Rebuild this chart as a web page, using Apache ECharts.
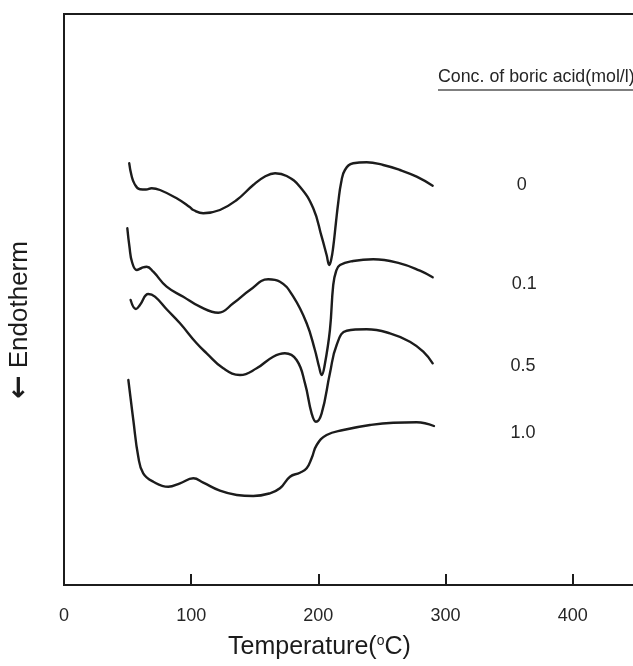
<!DOCTYPE html>
<html>
<head>
<meta charset="utf-8">
<title>DSC curves</title>
<script src="https://cdn.jsdelivr.net/npm/echarts@6/dist/echarts.min.js"></script>
<style>
  html, body { margin: 0; padding: 0; background: #fff; overflow: hidden; }
  #chart { width: 660px; height: 666px; }
</style>
</head>
<body>
<div id="chart"></div>
<script>
// Temperature ticks on the x axis (°C)
const xTicks = [0, 100, 200, 300, 400];

// Concentrations of boric acid (mol/l), one DSC trace each
const concLabels = ['0', '0.1', '0.5', '1.0'];

// DSC traces: [temperature (°C), heat flow (arb. units, offset per trace)]
const curve0 = [
  [51.3, 421.7], [53.0, 410], [55.5, 401], [59.7, 395.7], [64.5, 395.5], [68.9, 396.7], [75.5, 395],
  [88.6, 386.7], [99.1, 377.7], [101.7, 375], [109.5, 371.7], [122.6, 375],
  [135.8, 385], [148.8, 400], [158.0, 408.5], [166.0, 411.7], [175.1, 409],
  [185.5, 398.3], [196.0, 376.7], [202.6, 348.3], [206.5, 330], [208.6, 320],
  [210.2, 326], [211.7, 338], [213.8, 362], [215.6, 382], [218.0, 403],
  [220.9, 415], [227.4, 421.7], [238.0, 422.7], [251.0, 420], [264.2, 415],
  [277.3, 408.3], [289.9, 399.3]
];
const curve01 = [
  [49.8, 356.7], [51.5, 338], [53.5, 323], [57.2, 315], [61.0, 317], [65.0, 318.3],
  [70.2, 313.3], [80.7, 298.3], [93.8, 288.3], [106.9, 278.3], [121.3, 272.3],
  [133.1, 281.7], [146.2, 295], [160.6, 305.7], [169.8, 303.3], [180.3, 288.3],
  [190.8, 261.7], [197.3, 235], [200.6, 218], [202.6, 210], [205.0, 220],
  [209.1, 255], [211.7, 300], [214.0, 314], [217.0, 320], [227.4, 324],
  [243.2, 325.7], [264.2, 321.7], [279.9, 314.3], [289.9, 307.7]
];
const curve05 = [
  [52.4, 285], [56.6, 276], [59.7, 280], [66.3, 291], [71.5, 288.3],
  [80.7, 275.7], [91.2, 261.7], [104.3, 241.7], [112.2, 231.7], [125.2, 216.7],
  [138.4, 210], [151.5, 216.7], [164.5, 228.3], [173.7, 231.7], [182.9, 225],
  [189.5, 201.7], [194.7, 171.7], [198.1, 163.3], [202.6, 171.7], [209.1, 211.7],
  [214.4, 240], [222.3, 254.3], [238.0, 255.7], [256.3, 251.7], [272.0, 243.3],
  [282.5, 233.3], [289.9, 221.7]
];
const curve10 = [
  [50.6, 205], [54.5, 165], [58.4, 128.3], [62.3, 111.7], [70.2, 103.3],
  [82.0, 98.3], [91.2, 101.7], [101.7, 106.7], [109.5, 102.3], [122.6, 94.3],
  [135.8, 90], [148.8, 89], [161.9, 91.7], [169.8, 96.7], [177.7, 108.3],
  [185.5, 112.3], [190.8, 116.7], [194.7, 126.7], [198.7, 140], [206.5, 150],
  [219.6, 155], [240.6, 160], [258.9, 162.3], [277.3, 162.7], [290.9, 159]
];

// Where each concentration label sits: [temperature, heat flow]
const labelAt = [[360, 400], [362, 301], [361, 219], [361, 152]];

const curves = [curve0, curve01, curve05, curve10];

const FONT = '"Liberation Sans", Arial, sans-serif';
const INK = '#1c1c1c';
const TEXT = '#262626';

const chart = echarts.init(document.getElementById('chart'));

const series = curves.map((data, i) => ({
  name: concLabels[i],
  type: 'line',
  data: data,
  showSymbol: false,
  smooth: 0.45,
  silent: true,
  lineStyle: { color: INK, width: 2.4, cap: 'round', join: 'round' },
  markPoint: {
    symbol: 'circle',
    symbolSize: 0,
    data: [{
      coord: labelAt[i],
      label: {
        show: true,
        position: 'inside',
        formatter: concLabels[i],
        fontFamily: FONT,
        fontSize: 18,
        color: TEXT
      }
    }]
  }
}));

chart.setOption({
  animation: false,
  backgroundColor: '#fff',
  grid: {
    left: 64, top: 14, width: 585, height: 571,
    show: true, borderColor: INK, borderWidth: 2, backgroundColor: 'transparent'
  },
  xAxis: {
    type: 'value',
    min: 0, max: 460, interval: 100,
    axisLine: { lineStyle: { color: INK, width: 2 } },
    axisTick: { show: true, inside: true, length: 11, lineStyle: { color: INK, width: 2 } },
    axisLabel: {
      margin: 22, fontFamily: FONT, fontSize: 18, color: TEXT,
      customValues: xTicks
    },
    splitLine: { show: false }
  },
  yAxis: {
    type: 'value',
    min: 0, max: 571,
    axisLine: { show: true, lineStyle: { color: INK, width: 2 } },
    axisTick: { show: false },
    axisLabel: { show: false },
    splitLine: { show: false }
  },
  series: series,
  graphic: [
    {
      type: 'text',
      left: 228, top: 634,
      style: {
        text: 'Temperature({sup|o}C)',
        rich: { sup: { fontSize: 14, verticalAlign: 'top', padding: [0, 0, 12, 0], fontFamily: FONT, fill: INK } },
        font: '25px ' + FONT,
        fill: INK
      }
    },
    {
      type: 'text',
      x: 20, y: 320,
      rotation: Math.PI / 2,
      style: {
        text: '{arr|\u2190} Endotherm',
        rich: { arr: { fontSize: 28, fontWeight: 'bold', fontFamily: '"DejaVu Sans", sans-serif', fill: INK } },
        font: '26px ' + FONT,
        fill: INK,
        align: 'center',
        verticalAlign: 'middle'
      }
    },
    {
      type: 'text',
      left: 438, top: 68,
      style: {
        text: 'Conc. of boric acid(mol/l)',
        font: '17.8px ' + FONT,
        fill: TEXT
      }
    },
    {
      type: 'line',
      shape: { x1: 438, y1: 90, x2: 660, y2: 90 },
      style: { stroke: '#555', lineWidth: 1.3 }
    }
  ]
});
</script>
</body>
</html>
